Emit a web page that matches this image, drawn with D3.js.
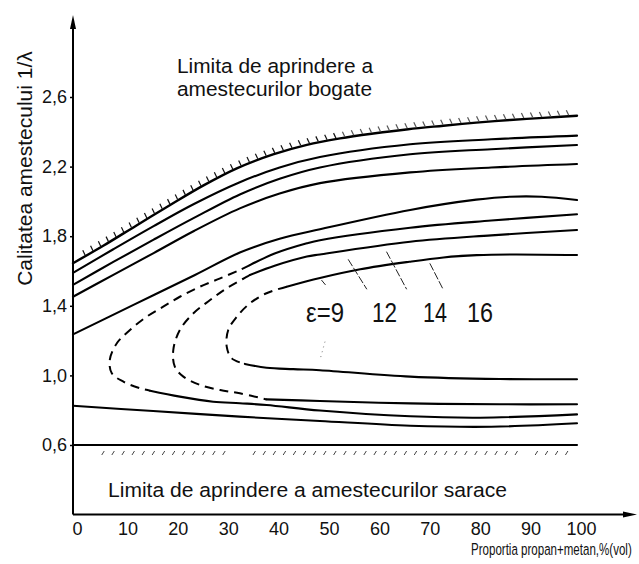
<!DOCTYPE html>
<html>
<head>
<meta charset="utf-8">
<script src="https://cdn.jsdelivr.net/npm/d3@7"></script>
<style>
  body { margin: 0; background: #fff; }
  svg { display: block; font-family: "Liberation Sans", Arial, sans-serif; }
</style>
</head>
<body>
<div id="chart"></div>
<script>
// x: proportia propan+metan, % vol ; y: calitatea amestecului 1/lambda
const xTicks = [0, 10, 20, 30, 40, 50, 60, 70, 80, 90, 100];
const yTicks = [0.6, 1.0, 1.4, 1.8, 2.2, 2.6];

// limita de aprindere a amestecurilor bogate (hasurata)
const richLimit = [[0,1.645],[6,1.745],[12.6,1.862],[19.2,1.978],[25.9,2.092],[32.5,2.19],[39.7,2.27],
  [46.4,2.325],[53,2.362],[59.6,2.39],[66.5,2.415],[73.5,2.435],[80,2.453],[86.7,2.468],[93.3,2.48],[100,2.492]];
// limita amestecurilor sarace
const leanLimit = [[0,0.6],[100,0.6]];

// curbele pline de sus
const curveB = [[0,1.589],[8,1.725],[16,1.858],[24,1.985],[33.1,2.11],[41,2.195],[49,2.255],[66.9,2.328],[83,2.357],[100,2.378]];
const curveC = [[0,1.52],[8,1.652],[16,1.78],[24,1.905],[33.1,2.04],[41,2.13],[49,2.195],[66.9,2.271],[83,2.3],[100,2.324]];
const curveD = [[0,1.452],[8,1.578],[16,1.703],[24,1.83],[33.1,1.96],[41,2.045],[49,2.105],[66.9,2.167],[83,2.195],[100,2.215]];
const curveE = [[0,1.236],[12,1.405],[24.2,1.577],[33.1,1.706],[41,1.785],[49,1.84],[66.9,1.951],[80,2.01],[86.7,2.027],[93,2.027],[100,2.008]];

// curbele cu bucla (ramura de sus, portiunea intrerupta, ramura de jos)
const upperF = [[35.1,1.634],[40,1.70],[46.4,1.759],[49,1.777],[66.9,1.849],[83,1.89],[100,1.926]];
const upperG = [[35.1,1.577],[40,1.63],[46.4,1.683],[49,1.695],[66.9,1.768],[83,1.805],[100,1.836]];
const upperH = [[42.4,1.51],[49,1.56],[57,1.61],[66.7,1.653],[73.5,1.678],[80.1,1.691],[86.7,1.695],[100,1.692]];

const dashF = [[35.1,1.634],[33.1,1.606],[29.2,1.558],[25.2,1.510],[21.2,1.452],[17.9,1.395],[14.6,1.337],
  [11.3,1.261],[8.7,1.185],[7.3,1.089],[7.7,1.012],[10.0,0.964],[13.3,0.926],[15.3,0.912]];
const dashG = [[35.1,1.577],[34.5,1.567],[30.5,1.501],[27.2,1.433],[23.9,1.357],[21.2,1.261],[19.9,1.146],
  [20.2,1.05],[21.9,0.993],[25.2,0.945],[29.2,0.916],[33.1,0.897],[38.4,0.862]];
const dashH = [[42.4,1.51],[38.4,1.472],[35.1,1.414],[32.5,1.337],[30.8,1.261],[30.5,1.165],[31.5,1.098],[34.1,1.066]];

const lowerF = [[15.3,0.912],[21.2,0.878],[27.8,0.849],[33.1,0.840],[38.4,0.830],[49,0.798],[66.9,0.765],[80.8,0.757],[100,0.776]];
const lowerG = [[38.4,0.862],[49,0.853],[66.9,0.839],[84.7,0.834],[100,0.834]];
const lowerH = [[34.1,1.066],[38.4,1.044],[43.7,1.036],[49,1.03],[66.9,0.993],[84.7,0.979],[100,0.978]];

// linia de jos
const lowerLine = [[0,0.826],[15.9,0.795],[33.1,0.763],[49,0.738],[66.9,0.711],[83,0.705],[100,0.725]];

// indicatoarele pentru epsilon
const epsLabels = ["\u03b5=9", "12", "14", "16"];
const epsLeaders = [
  [[49.3,1.548],[50.1,1.52]],
  [[54.6,1.667],[58.3,1.495]],
  [[62.2,1.711],[66.2,1.495]],
  [[70.8,1.644],[73.5,1.491]]
];
const epsDotted = [[50,1.194],[49,1.089]];

const width = 639, height = 564;

const svg = d3.select("#chart").append("svg")
  .attr("width", width)
  .attr("height", height);

const x = d3.scaleLinear().domain([0, 100]).range([73, 577]);
const y = d3.scaleLinear().domain([0.6, 2.6]).range([445, 97]);
const yBase = y(0.2);

const line = d3.line()
  .x(d => x(d[0]))
  .y(d => y(d[1]))
  .curve(d3.curveCatmullRom.alpha(0.5));

const plot = svg.append("g");

// axe
const yAxis = svg.append("g")
  .attr("transform", `translate(${x(0)},0)`)
  .call(d3.axisLeft(y).tickValues(yTicks).tickSize(3).tickPadding(3)
    .tickFormat(d => d.toFixed(1).replace(".", ",")));
yAxis.select(".domain").remove();
yAxis.selectAll(".tick line").attr("stroke", "#000").attr("stroke-width", 1.5);
yAxis.selectAll(".tick text").attr("font-size", 18).attr("fill", "#111")
  .attr("font-family", "Liberation Sans, Arial, sans-serif");

const xAxis = svg.append("g")
  .attr("transform", `translate(0,${yBase})`)
  .call(d3.axisBottom(x).tickValues(xTicks).tickSize(0));
xAxis.select(".domain").remove();
xAxis.selectAll(".tick text")
  .attr("font-size", 18).attr("fill", "#111")
  .attr("font-family", "Liberation Sans, Arial, sans-serif")
  .attr("x", 4).attr("y", 20.5).attr("dy", 0);

svg.append("line")
  .attr("x1", x(0)).attr("x2", x(0))
  .attr("y1", yBase).attr("y2", 22)
  .attr("stroke", "#000").attr("stroke-width", 2);
svg.append("path")
  .attr("d", `M${x(0)},15 L${x(0) - 3},29 L${x(0) + 3},29 Z`)
  .attr("fill", "#000");

svg.append("line")
  .attr("x1", x(0)).attr("x2", 628)
  .attr("y1", yBase).attr("y2", yBase)
  .attr("stroke", "#000").attr("stroke-width", 2);
svg.append("path")
  .attr("d", `M637,${yBase} L623,${yBase - 3} L623,${yBase + 3} Z`)
  .attr("fill", "#000");

// curbe pline
const solids = [richLimit, curveB, curveC, curveD, curveE, upperF, upperG, upperH, lowerF, lowerG, lowerH, lowerLine, leanLimit];
plot.selectAll("path.solid")
  .data(solids)
  .join("path")
  .attr("class", "solid")
  .attr("d", line)
  .attr("fill", "none")
  .attr("stroke", "#000")
  .attr("stroke-width", (d, i) => i === 0 ? 2.4 : 2.1)
  .attr("stroke-linecap", "round");

// bucle intrerupte
plot.selectAll("path.dash")
  .data([dashF, dashG, dashH])
  .join("path")
  .attr("class", "dash")
  .attr("d", line)
  .attr("fill", "none")
  .attr("stroke", "#000")
  .attr("stroke-width", 2)
  .attr("stroke-dasharray", "9,6");

// hasura pe limita bogata
const richNode = plot.select("path.solid").node();
const richLen = richNode.getTotalLength();
const hatchTop = [];
for (let s = 14; s < richLen - 4; s += 9) hatchTop.push(richNode.getPointAtLength(s));
plot.selectAll("line.hatchTop")
  .data(hatchTop)
  .join("line")
  .attr("x1", d => d.x).attr("y1", d => d.y - 1)
  .attr("x2", d => d.x - 2.4).attr("y2", d => d.y - 6)
  .attr("stroke", (d, i) => i < 32 ? "#111" : "#555")
  .attr("stroke-width", 1.2);

// hasura sub limita saraca
const hatchBottom = d3.range(6, 100, 2).filter(v => !(v > 31 && v < 35) && !(v > 88 && v < 92));
plot.selectAll("line.hatchBottom")
  .data(hatchBottom)
  .join("line")
  .attr("x1", v => x(v) - 1.5).attr("y1", y(0.6) + 10)
  .attr("x2", v => x(v) + 1).attr("y2", y(0.6) + 6)
  .attr("stroke", "#444")
  .attr("stroke-width", 1);

// indicatoare epsilon
plot.selectAll("path.leader")
  .data(epsLeaders)
  .join("path")
  .attr("d", d3.line().x(d => x(d[0])).y(d => y(d[1])))
  .attr("stroke", "#222")
  .attr("stroke-width", 1)
  .attr("stroke-dasharray", (d, i) => i === 0 ? null : "8,2");
plot.append("path")
  .attr("d", d3.line().x(d => x(d[0])).y(d => y(d[1]))(epsDotted))
  .attr("stroke", "#777")
  .attr("stroke-width", 1)
  .attr("stroke-dasharray", "1,4");

const epsPos = [[306, 38], [372, 25], [423, 24], [467, 26]];
svg.selectAll("text.eps")
  .data(epsLabels)
  .join("text")
  .attr("class", "eps")
  .attr("x", (d, i) => epsPos[i][0])
  .attr("y", 322)
  .attr("font-size", 27)
  .attr("textLength", (d, i) => epsPos[i][1])
  .attr("lengthAdjust", "spacingAndGlyphs")
  .attr("fill", "#111")
  .text(d => d);

// texte
const notes = [
  { t: "Limita de aprindere a", x: 177, y: 73, w: 196 },
  { t: "amestecurilor bogate", x: 177, y: 95.5, w: 195 },
  { t: "Limita de aprindere a amestecurilor sarace", x: 108, y: 497, w: 399 }
];
svg.selectAll("text.note")
  .data(notes)
  .join("text")
  .attr("class", "note")
  .attr("x", d => d.x).attr("y", d => d.y)
  .attr("font-size", 20.5)
  .attr("textLength", d => d.w)
  .attr("lengthAdjust", "spacingAndGlyphs")
  .attr("fill", "#111")
  .text(d => d.t);

// titlul axei x, ingustat pe orizontala ca in original
svg.append("text")
  .attr("transform", "translate(471,555) scale(0.7,1)")
  .attr("font-size", 16.5)
  .attr("fill", "#111")
  .text("Proportia propan+metan,%(vol)");

svg.append("text")
  .attr("transform", "translate(31.5,168.5) rotate(-90)")
  .attr("text-anchor", "middle")
  .attr("font-size", 21)
  .attr("fill", "#111")
  .text("Calitatea amestecului 1/\u03bb");
</script>
</body>
</html>
